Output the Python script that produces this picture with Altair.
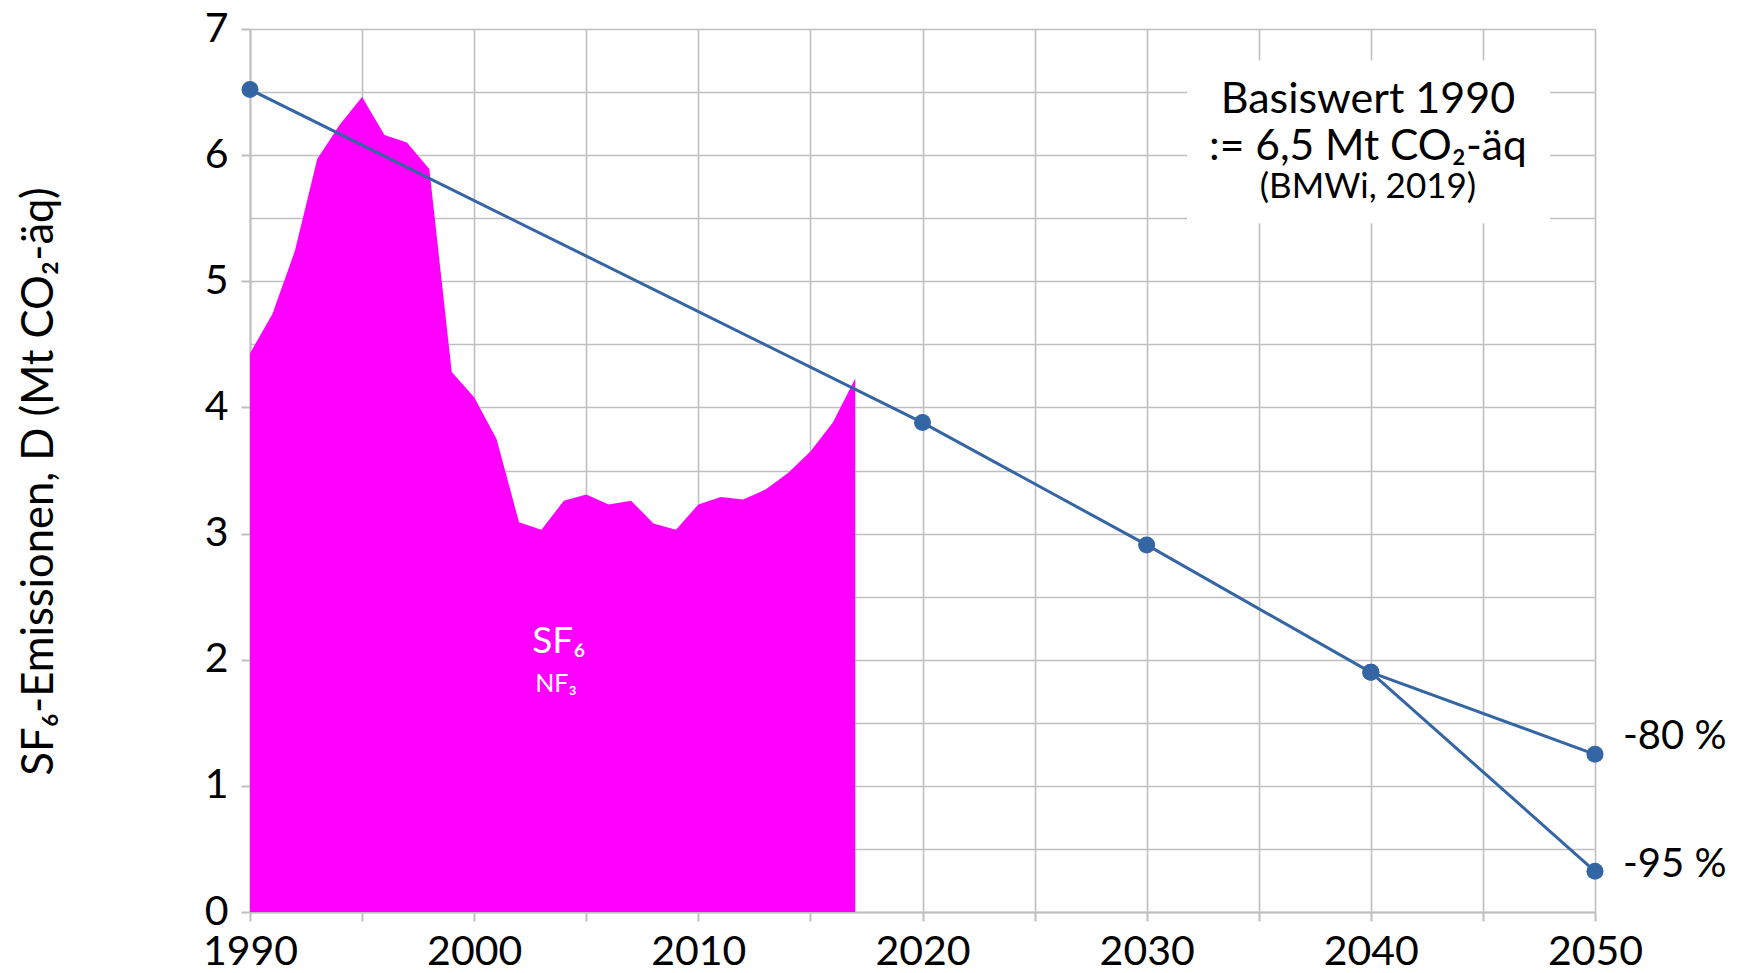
import altair as alt
import pandas as pd

# ---- data ----
years = list(range(1990, 2018))
sf6 = [4.43, 4.74, 5.24, 5.97, 6.24, 6.46, 6.16, 6.10, 5.89, 4.28,
       4.08, 3.75, 3.09, 3.03, 3.26, 3.31, 3.23, 3.26, 3.08, 3.03,
       3.23, 3.29, 3.27, 3.35, 3.48, 3.65, 3.88, 4.23]

target_years = [1990, 2020, 2030, 2040, 2050]
target_vals = [6.52, 3.88, 2.91, 1.90, 1.25]
alt_years = [2040, 2050]
alt_vals = [1.90, 0.323]

x_ticks = list(range(1990, 2051, 5))
y_ticks = [i * 0.5 for i in range(15)]

box_x = [2031.8]
box_x2 = [2048.0]
box_y = [6.75]
box_y2 = [5.46]

ann_text = ["Basiswert 1990", ":= 6,5 Mt CO₂-äq", "(BMWi, 2019)"]
ann_x = [2039.87, 2039.87, 2039.87]
ann_y = [6.334, 5.961, 5.66]

pct_text = ["-80 %", "-95 %"]
pct_x = [2050, 2050]
pct_y = [1.385, 0.37]

gas_text = ["SF₆", "NF₃"]
gas_x = [2003.78, 2003.65]
gas_y = [2.139, 1.806]

FONT = "Lato"
GRID = "#BFBFBF"
BLUE = "#3465A4"
MAGENTA = "#FF00FF"

area_df = pd.DataFrame({"Jahr": years, "Wert": sf6})
line_df = pd.DataFrame({
    "Jahr": target_years + alt_years,
    "Wert": target_vals + alt_vals,
    "Pfad": ["a"] * len(target_years) + ["b"] * len(alt_years),
})
box_df = pd.DataFrame({"x": box_x, "x2": box_x2, "y": box_y, "y2": box_y2})
ann_df = pd.DataFrame({"x": ann_x, "y": ann_y, "t": ann_text})
pct_df = pd.DataFrame({"x": pct_x, "y": pct_y, "t": pct_text})
gas_df = pd.DataFrame({"x": gas_x, "y": gas_y, "t": gas_text})

xs = alt.Scale(domain=[1990, 2050], nice=False, zero=False)
ys = alt.Scale(domain=[0, 7], nice=False, zero=True)

x_axis = alt.Axis(
    values=x_ticks, format="d",
    labelExpr="datum.value % 10 == 0 ? datum.label : ''",
    grid=True, gridColor=GRID, gridWidth=1.6,
    domainColor=GRID, domainWidth=2,
    tickColor=GRID, tickWidth=2, tickSize=9,
    labelFont=FONT, labelFontSize=41, labelColor="black",
    labelPadding=11, labelFlush=False, labelOverlap=False, title=None,
)
y_axis = alt.Axis(
    values=y_ticks,
    labelExpr="datum.value % 1 == 0 ? format(datum.value, 'd') : ''",
    grid=True, gridColor=GRID, gridWidth=1.6,
    domainColor=GRID, domainWidth=2,
    tickColor={"condition": {"test": "datum.value % 1 === 0", "value": GRID}, "value": "transparent"},
    tickWidth=2, tickSize=9,
    labelFont=FONT, labelFontSize=41, labelColor="black",
    labelPadding=13, labelFlush=False, labelOverlap=False,
    title="SF₆-Emissionen, D (Mt CO₂-äq)",
    titleFont=FONT, titleFontSize=43.5, titleFontWeight="normal", titleColor="black",
    titleX=-211, titleY=452, titleAngle=270, titleAlign="center", titleBaseline="middle",
)

area = alt.Chart(area_df).mark_area(color=MAGENTA, opacity=1).encode(
    x=alt.X("Jahr:Q", scale=xs, axis=x_axis),
    y=alt.Y("Wert:Q", scale=ys, axis=y_axis),
)

box = alt.Chart(box_df).mark_rect(fill="white", stroke=None).encode(
    x=alt.X("x:Q", scale=xs), x2="x2:Q",
    y=alt.Y("y:Q", scale=ys), y2="y2:Q",
)

ann_layers = []
for i, fs in enumerate([43, 42.5, 35]):
    ann_layers.append(
        alt.Chart(ann_df.iloc[[i]]).mark_text(
            font=FONT, fontSize=fs, color="black", align="center", baseline="alphabetic"
        ).encode(x=alt.X("x:Q", scale=xs), y=alt.Y("y:Q", scale=ys), text="t:N")
    )

pct = alt.Chart(pct_df).mark_text(
    font=FONT, fontSize=40, color="black", align="left", baseline="middle", dx=28
).encode(x=alt.X("x:Q", scale=xs), y=alt.Y("y:Q", scale=ys), text="t:N")

gas_layers = []
for i, fs in enumerate([37, 25]):
    gas_layers.append(
        alt.Chart(gas_df.iloc[[i]]).mark_text(
            font=FONT, fontSize=fs, color="white", align="center", baseline="middle"
        ).encode(x=alt.X("x:Q", scale=xs), y=alt.Y("y:Q", scale=ys), text="t:N")
    )

lines = alt.Chart(line_df).mark_line(color=BLUE, strokeWidth=3).encode(
    x=alt.X("Jahr:Q", scale=xs), y=alt.Y("Wert:Q", scale=ys), detail="Pfad:N",
)
points = alt.Chart(line_df).mark_circle(
    color=BLUE, size=290, opacity=1
).encode(x=alt.X("Jahr:Q", scale=xs), y=alt.Y("Wert:Q", scale=ys))

chart = alt.layer(
    area, box, *ann_layers, *gas_layers, lines, points, pct
).properties(
    width=1345, height=883,
    autosize=alt.AutoSizeParams(type="none"),
    padding={"left": 242, "top": 21, "right": 135, "bottom": 53},
).configure_view(strokeWidth=0).configure(background="white")

chart.save("out.html", embed_options={"renderer": "svg", "actions": False})
